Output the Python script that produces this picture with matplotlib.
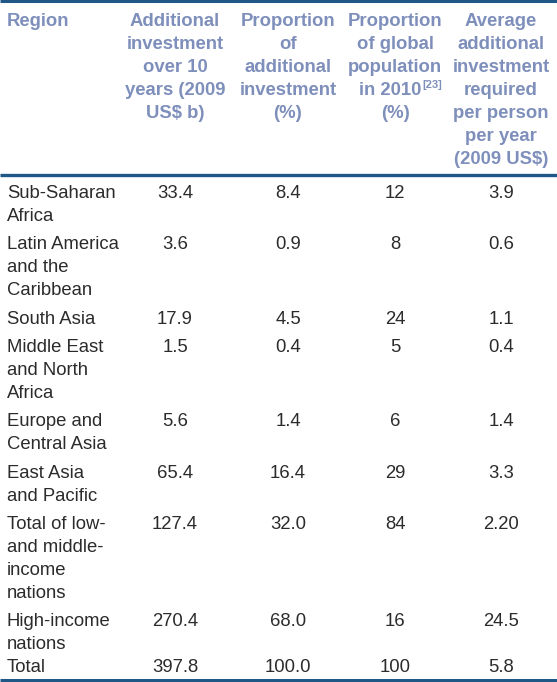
import matplotlib.pyplot as plt

# table content
headers = [
    ["Region"],
    ["Additional", "investment", "over 10", "years (2009", "US$ b)"],
    ["Proportion", "of", "additional", "investment", "(%)"],
    ["Proportion", "of global", "population", "in 2010", "(%)"],
    ["Average", "additional", "investment", "required", "per person", "per year", "(2009 US$)"],
]
header_note = "[23]"

regions = [
    ["Sub-Saharan", "Africa"],
    ["Latin America", "and the", "Caribbean"],
    ["South Asia"],
    ["Middle East", "and North", "Africa"],
    ["Europe and", "Central Asia"],
    ["East Asia", "and Pacific"],
    ["Total of low-", "and middle-", "income", "nations"],
    ["High-income", "nations"],
    ["Total"],
]
investment = ["33.4", "3.6", "17.9", "1.5", "5.6", "65.4", "127.4", "270.4", "397.8"]
share_investment = ["8.4", "0.9", "4.5", "0.4", "1.4", "16.4", "32.0", "68.0", "100.0"]
share_population = ["12", "8", "24", "5", "6", "29", "84", "16", "100"]
per_person = ["3.9", "0.6", "1.1", "0.4", "1.4", "3.3", "2.20", "24.5", "5.8"]


def main():
    W, H = 557, 682
    fig = plt.figure(figsize=(W / 100, H / 100), dpi=100, facecolor="white")
    ax = fig.add_axes([0, 0, 1, 1])
    ax.set_xlim(0, W)
    ax.set_ylim(H, 0)
    ax.axis("off")

    plt.rcParams["font.family"] = ["Liberation Sans", "DejaVu Sans"]
    fs = 13.3
    head_col = "#7e8fbb"
    body_col = "#2b2b2b"
    rule_col = "#1f5787"
    line_h = 23.0

    col_x = [7, 175, 288, 395, 501]

    # rules
    ax.plot([0, W], [1, 1], color=rule_col, lw=2.2, solid_capstyle="butt")
    ax.plot([0, W], [175, 175], color=rule_col, lw=2.4, solid_capstyle="butt")
    ax.plot([0, W], [680, 680], color=rule_col, lw=2.2, solid_capstyle="butt")

    # header
    for i, lines in enumerate(headers):
        for j, t in enumerate(lines):
            y = 21.5 + j * line_h
            if i == 0:
                ax.text(col_x[i], y, t, ha="left", va="center", fontsize=fs,
                        fontweight="bold", color=head_col)
            elif i == 3 and t == "in 2010":
                ax.text(col_x[i] + 26, y, t, ha="right", va="center", fontsize=fs,
                        fontweight="bold", color=head_col)
                ax.text(col_x[i] + 27, y - 5, header_note, ha="left", va="center",
                        fontsize=8, fontweight="bold", color=head_col)
            else:
                ax.text(col_x[i], y, t, ha="center", va="center", fontsize=fs,
                        fontweight="bold", color=head_col)

    # body
    y = 193.5
    cols = [investment, share_investment, share_population, per_person]
    for r, lines in enumerate(regions):
        for j, t in enumerate(lines):
            ax.text(col_x[0], y + j * line_h, t, ha="left", va="center",
                    fontsize=fs, color=body_col)
        for c, vals in enumerate(cols):
            ax.text(col_x[c + 1], y, vals[r], ha="center", va="center",
                    fontsize=fs, color=body_col)
        gap = 5.3 if r < len(regions) - 2 else 0
        y += len(lines) * line_h + gap

    fig.savefig("out.png", dpi=100, facecolor="white")


if __name__ == "__main__":
    main()
